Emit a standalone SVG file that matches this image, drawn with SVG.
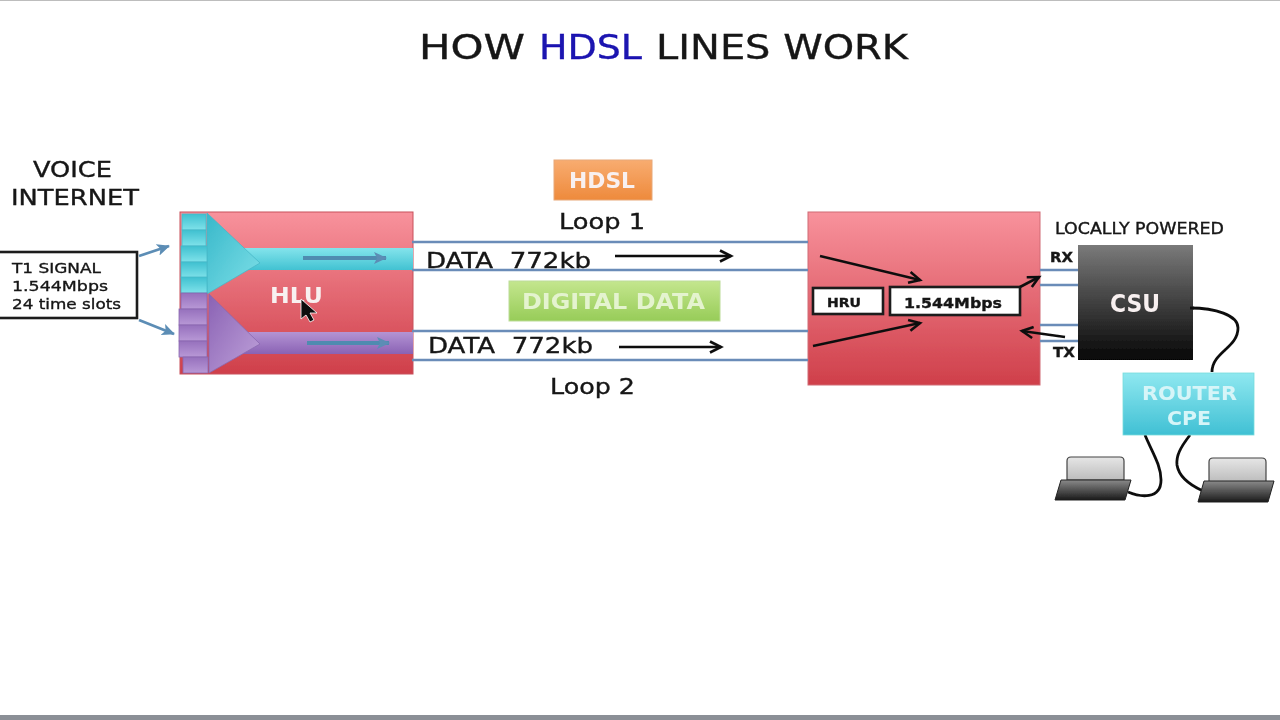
<svg xmlns="http://www.w3.org/2000/svg" width="1280" height="720" viewBox="0 0 1280 720">
<style>
text{font-family:"DejaVu Sans","Liberation Sans",sans-serif;fill:#141414;stroke:#141414;stroke-width:.35}
.w{fill:#f8f0f0;stroke:none;font-weight:600}
.line{stroke:#6a8cb8;stroke-width:2.6;fill:none}
.bk{stroke:#111;stroke-width:2.6;fill:none;marker-end:url(#ah)}
.bl{stroke:#5b8db5;stroke-width:2.8;fill:none;marker-end:url(#ab)}
.blt{stroke:#4f8bb0;stroke-width:4;fill:none;marker-end:url(#ab)}
.cable{stroke:#111;stroke-width:2.8;fill:none}
.box{fill:#fff;stroke:#1a1a1a;stroke-width:2.6}
.c{fill:url(#cy);stroke:#48b8c8;stroke-width:.8}
.p{fill:url(#pu);stroke:#8a68b0;stroke-width:.8}
</style>
<defs>
<filter id="soft" x="0" y="0" width="1" height="1"><feGaussianBlur stdDeviation="0.55"/></filter>
<linearGradient id="red" x1="0" y1="0" x2="0" y2="1"><stop offset="0" stop-color="#f8929c"/><stop offset="1" stop-color="#cf3f4a"/></linearGradient>
<linearGradient id="cy" x1="0" y1="0" x2="0" y2="1"><stop offset="0" stop-color="#3fc0d0"/><stop offset="1" stop-color="#7fe2ea"/></linearGradient>
<linearGradient id="pu" x1="0" y1="0" x2="0" y2="1"><stop offset="0" stop-color="#9670bd"/><stop offset="1" stop-color="#b898d6"/></linearGradient>
<linearGradient id="band" x1="0" y1="0" x2="0" y2="1"><stop offset="0" stop-color="#84e4ec"/><stop offset="1" stop-color="#42c2d2"/></linearGradient>
<linearGradient id="tri1" x1="0" y1="0" x2="1" y2="1"><stop offset="0" stop-color="#38b8ca"/><stop offset="1" stop-color="#7fe0e8"/></linearGradient>
<linearGradient id="band2" x1="0" y1="0" x2="0" y2="1"><stop offset="0" stop-color="#b494d4"/><stop offset="1" stop-color="#8a62b4"/></linearGradient>
<linearGradient id="tri2" x1="0" y1="0" x2="1" y2="1"><stop offset="0" stop-color="#8a62b4"/><stop offset="1" stop-color="#bfa2da"/></linearGradient>
<linearGradient id="or" x1="0" y1="0" x2="0" y2="1"><stop offset="0" stop-color="#f8ac70"/><stop offset="1" stop-color="#ee8a3c"/></linearGradient>
<linearGradient id="gr" x1="0" y1="0" x2="0" y2="1"><stop offset="0" stop-color="#c4e68e"/><stop offset="1" stop-color="#97cc58"/></linearGradient>
<linearGradient id="csu" x1="0" y1="0" x2="0" y2="1"><stop offset="0" stop-color="#7a7a7a"/><stop offset="1" stop-color="#060606"/></linearGradient>
<linearGradient id="rt" x1="0" y1="0" x2="0" y2="1"><stop offset="0" stop-color="#8fe8f0"/><stop offset="1" stop-color="#40c0d4"/></linearGradient>
<linearGradient id="scr" x1="0" y1="0" x2="0" y2="1"><stop offset="0" stop-color="#e6e6e6"/><stop offset="1" stop-color="#bcbcbc"/></linearGradient>
<linearGradient id="kb" x1="0" y1="0" x2="0" y2="1"><stop offset="0" stop-color="#8a8a8a"/><stop offset="1" stop-color="#1a1a1a"/></linearGradient>
<marker id="ah" markerUnits="userSpaceOnUse" markerWidth="16" markerHeight="14" refX="13" refY="7" orient="auto"><path d="M2 1.5L13 7L2 12.5" fill="none" stroke="#111" stroke-width="2.6"/></marker>
<marker id="ab" markerUnits="userSpaceOnUse" markerWidth="14" markerHeight="14" refX="12" refY="7" orient="auto"><path d="M0 1L13 7L0 13L3 7Z" fill="#5b8db5"/></marker>
</defs>
<rect width="1280" height="720" fill="#fff"/>
<g filter="url(#soft)">
<rect y="0" width="1280" height="1" fill="#bdbdbd"/>
<rect y="715" width="1280" height="5" fill="#8b8f96"/>

<text x="419" y="59" font-size="33" textLength="106" lengthAdjust="spacingAndGlyphs">HOW</text>
<text x="539" y="59" font-size="33" textLength="103" lengthAdjust="spacingAndGlyphs" style="fill:#1a12b0;stroke:#1a12b0">HDSL</text>
<text x="656" y="59" font-size="33" textLength="252" lengthAdjust="spacingAndGlyphs">LINES WORK</text>

<g id="hlu">
<rect x="180" y="212" width="233" height="162" fill="url(#red)" stroke="#c8505a"/>
<rect x="240" y="248" width="173" height="22" fill="url(#band)"/>
<rect x="240" y="332" width="173" height="22" fill="url(#band2)"/>
<path d="M207 213L260 263L207 294Z" fill="url(#tri1)" stroke="#48b8c8" stroke-width=".8"/>
<path d="M209 294L260 344L209 373Z" fill="url(#tri2)" stroke="#8a68b0" stroke-width=".8"/>
<rect class="c" x="182" y="214" width="24" height="16"/>
<rect class="c" x="182" y="230" width="24" height="16"/>
<rect class="c" x="181" y="246" width="26" height="16"/>
<rect class="c" x="181" y="262" width="26" height="16"/>
<rect class="c" x="181" y="277" width="26" height="16"/>
<rect class="p" x="181" y="293" width="26" height="16"/>
<rect class="p" x="179" y="309" width="28" height="16"/>
<rect class="p" x="179" y="325" width="28" height="16"/>
<rect class="p" x="179" y="341" width="28" height="16"/>
<rect class="p" x="183" y="357" width="25" height="16"/>
<path class="blt" d="M303 258H386"/>
<path class="blt" d="M307 343H389"/>
<text class="w" x="270" y="303" font-size="21" textLength="53" lengthAdjust="spacingAndGlyphs">HLU</text>
<path d="M301 299V319L306 315L310 322L314 320L310 313L317 313Z" fill="#111" stroke="#fff" stroke-width=".8"/>
</g>

<g id="t1"><rect class="box" x="-3" y="252" width="140" height="66"/>
<text x="12" y="273" font-size="14.5" textLength="89" lengthAdjust="spacingAndGlyphs">T1 SIGNAL</text><text x="12" y="291" font-size="14.5" textLength="96" lengthAdjust="spacingAndGlyphs">1.544Mbps</text><text x="12" y="309" font-size="14.5" textLength="109" lengthAdjust="spacingAndGlyphs">24 time slots</text></g>
<g id="voice"><text x="33" y="177" font-size="21" textLength="79" lengthAdjust="spacingAndGlyphs">VOICE</text><text x="11" y="205" font-size="21" textLength="128" lengthAdjust="spacingAndGlyphs">INTERNET</text></g>

<g id="hdsl"><rect x="554" y="160" width="98" height="40" fill="url(#or)" stroke="#e8a878"/><text class="w" x="569" y="188" font-size="21" textLength="66" lengthAdjust="spacingAndGlyphs">HDSL</text></g>
<g id="digital"><rect x="509" y="281" width="211" height="40" fill="url(#gr)" stroke="#bcdc98"/><text class="w" x="522" y="309" font-size="21" textLength="183" lengthAdjust="spacingAndGlyphs" style="fill:#e4f3cf">DIGITAL DATA</text></g>
<g id="hru-block">
<rect x="808" y="212" width="232" height="173" fill="url(#red)" stroke="#d06a74"/>
<rect class="box" x="813" y="288" width="70" height="26"/>
<text x="827" y="307" font-size="13" font-weight="700" textLength="34" lengthAdjust="spacingAndGlyphs">HRU</text>
<rect class="box" x="890" y="287" width="130" height="28"/>
<text x="904" y="308" font-size="14.5" font-weight="700" textLength="98" lengthAdjust="spacingAndGlyphs">1.544Mbps</text>
</g>

<g id="connectors">
<path class="line" d="M412 242H808M412 270H808M412 331H808M412 360H808"/>
<path class="line" d="M1040 270H1078M1040 285H1078M1040 325H1078M1040 341H1078"/>
<path class="bl" d="M139 256L169 246"/>
<path class="bl" d="M139 320L174 334"/>
<path class="bk" d="M615 256H731"/>
<path class="bk" d="M619 347H721"/>
<path class="bk" d="M820 256L920 280"/>
<path class="bk" d="M813 346L920 323"/>
<path class="bk" d="M1020 287L1039 277"/>
<path class="bk" d="M1065 337L1022 331"/>
<path class="cable" d="M1190 308C1215 308 1238 315 1238 328C1238 348 1212 352 1212 372"/>
<path class="cable" d="M1145 435C1152 452 1161 465 1161 480C1161 500 1140 497 1128 492"/>
<path class="cable" d="M1190 435C1180 448 1176 456 1177 465C1179 478 1192 486 1203 491"/>
</g>

<text x="559" y="229" font-size="21.5" textLength="86" lengthAdjust="spacingAndGlyphs">Loop 1</text>
<text x="550" y="394" font-size="21.5" textLength="85" lengthAdjust="spacingAndGlyphs">Loop 2</text>
<text x="426" y="268" font-size="22" textLength="165" lengthAdjust="spacingAndGlyphs" xml:space="preserve">DATA  772kb</text>
<text x="428" y="353" font-size="22" textLength="165" lengthAdjust="spacingAndGlyphs" xml:space="preserve">DATA  772kb</text>
<text x="1055" y="234" font-size="15" textLength="169" lengthAdjust="spacingAndGlyphs">LOCALLY POWERED</text>
<text x="1050" y="262" font-size="14" font-weight="700" textLength="23" lengthAdjust="spacingAndGlyphs">RX</text>
<text x="1053" y="357" font-size="14" font-weight="700" textLength="22" lengthAdjust="spacingAndGlyphs">TX</text>
<g id="csu-node"><rect x="1078" y="245" width="115" height="115" fill="url(#csu)"/><text class="w" x="1110" y="312" font-size="24" textLength="50" lengthAdjust="spacingAndGlyphs">CSU</text><path class="cable" d="M1190 308H1194"/></g>
<g id="router"><rect x="1123" y="373" width="131" height="62" fill="url(#rt)" stroke="#7dd" stroke-width=".8"/>
<text class="w" x="1142" y="400" font-size="20" textLength="95" lengthAdjust="spacingAndGlyphs" style="fill:#d6f5f8">ROUTER</text><text class="w" x="1167" y="425" font-size="20" textLength="44" lengthAdjust="spacingAndGlyphs" style="fill:#d6f5f8">CPE</text></g>
<g id="pc1"><path d="M1067 480V461Q1067 457 1071 457H1120Q1124 457 1124 461V480Z" fill="url(#scr)" stroke="#444" stroke-width="1.2"/><path d="M1061 480H1131L1125 500H1055Z" fill="url(#kb)" stroke="#222"/></g>
<g id="pc2"><path d="M1209 482V462Q1209 458 1213 458H1262Q1266 458 1266 462V482Z" fill="url(#scr)" stroke="#444" stroke-width="1.2"/><path d="M1204 481H1274L1268 502H1198Z" fill="url(#kb)" stroke="#222"/></g>
</g>
</svg>
